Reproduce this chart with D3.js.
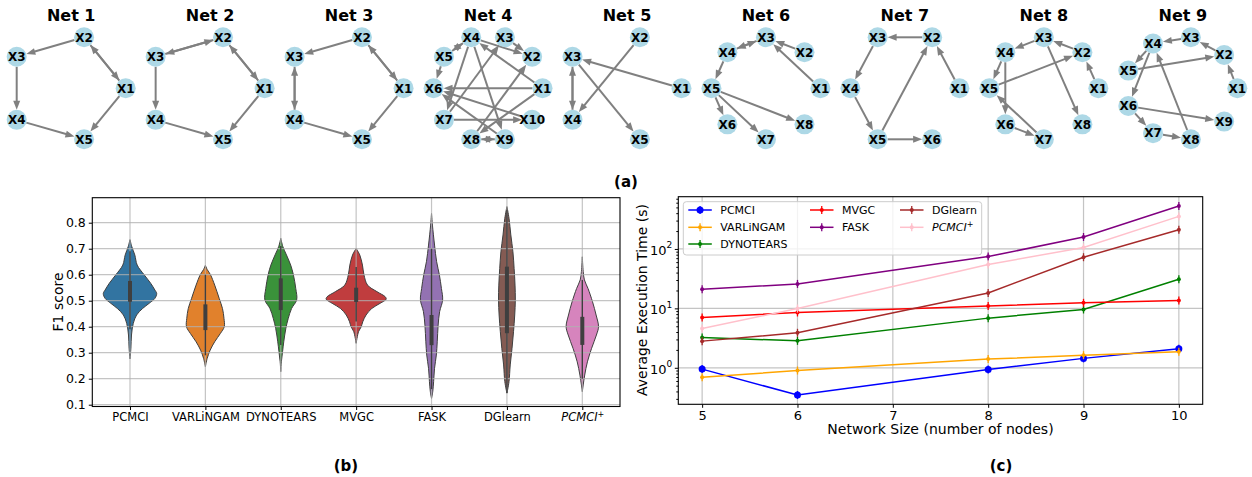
<!DOCTYPE html>
<html>
<head>
<meta charset="utf-8">
<script src="https://cdn.jsdelivr.net/npm/d3@7"></script>
<style>
  body { margin: 0; background: #fff; }
  svg { display: block; }
  text { font-family: "DejaVu Sans", sans-serif; fill: #000; }
</style>
</head>
<body>
<svg id="fig" width="1252" height="477"></svg>
<script>
// ---------- (a) causal networks ----------
const netTitles = ["Net 1", "Net 2", "Net 3", "Net 4", "Net 5", "Net 6", "Net 7", "Net 8", "Net 9"];
const netSizes = [5, 5, 5, 10, 5, 8, 6, 8, 9];
const netEdges = [
  [[2, 3], [3, 4], [4, 5], [1, 5], [2, 1], [1, 2]],
  [[3, 2], [2, 3], [2, 1], [1, 2], [3, 4], [4, 5], [1, 5]],
  [[2, 3], [3, 4], [4, 3], [2, 1], [1, 2], [1, 5], [4, 5]],
  [[4, 5], [5, 4], [5, 6], [4, 2], [3, 2], [1, 4], [1, 6], [1, 8], [4, 7], [4, 9], [7, 3], [8, 2], [7, 10], [10, 6], [9, 6], [8, 9], [9, 8]],
  [[2, 4], [1, 3], [3, 4], [4, 3], [3, 5]],
  [[4, 3], [3, 4], [2, 3], [1, 3], [4, 5], [5, 6], [5, 7], [5, 8]],
  [[2, 3], [3, 4], [4, 5], [5, 2], [1, 2], [5, 6]],
  [[3, 4], [2, 3], [1, 2], [4, 5], [5, 2], [4, 6], [3, 8], [6, 7], [7, 5]],
  [[3, 4], [2, 3], [1, 2], [4, 5], [5, 2], [4, 6], [6, 7], [7, 8], [8, 4], [6, 9]]
];

// ---------- (b) F1 score violins ----------
const methods = ["PCMCI", "VARLiNGAM", "DYNOTEARS", "MVGC", "FASK", "DGlearn", "PCMCI+"];
const violinColors = ["#3274a1", "#e1812c", "#3a923a", "#c03d3e", "#9372b2", "#845b53", "#d684bd"];
// kernel density outlines: [F1 score, relative density]
const violinPCMCI = [[0.276, 0], [0.317, 0.03], [0.368, 0.05], [0.413, 0.11], [0.445, 0.22], [0.47, 0.42], [0.49, 0.64], [0.509, 0.83], [0.528, 0.89], [0.541, 0.83], [0.567, 0.69], [0.6, 0.47], [0.637, 0.24], [0.676, 0.16], [0.708, 0.06], [0.735, 0]];
const violinVARLiNGAM = [[0.246, 0], [0.278, 0.06], [0.31, 0.16], [0.342, 0.31], [0.374, 0.5], [0.4, 0.63], [0.432, 0.62], [0.47, 0.57], [0.509, 0.46], [0.56, 0.31], [0.6, 0.17], [0.62, 0.06], [0.636, 0]];
const violinDYNOTEARS = [[0.227, 0], [0.265, 0.02], [0.304, 0.06], [0.342, 0.1], [0.394, 0.17], [0.432, 0.25], [0.47, 0.36], [0.503, 0.53], [0.547, 0.5], [0.6, 0.42], [0.637, 0.33], [0.676, 0.19], [0.708, 0.07], [0.74, 0]];
const violinMVGC = [[0.336, 0], [0.381, 0.08], [0.4, 0.17], [0.419, 0.22], [0.445, 0.33], [0.47, 0.52], [0.49, 0.8], [0.506, 1.0], [0.515, 0.97], [0.535, 0.69], [0.56, 0.38], [0.6, 0.26], [0.637, 0.21], [0.676, 0.12], [0.701, 0]];
const violinFASK = [[0.124, 0], [0.15, 0.04], [0.189, 0.07], [0.24, 0.1], [0.291, 0.16], [0.342, 0.19], [0.406, 0.22], [0.458, 0.27], [0.503, 0.37], [0.547, 0.33], [0.6, 0.26], [0.65, 0.17], [0.714, 0.1], [0.791, 0.03], [0.836, 0]];
const violinDGlearn = [[0.144, 0], [0.189, 0.07], [0.253, 0.11], [0.317, 0.17], [0.381, 0.22], [0.445, 0.26], [0.503, 0.28], [0.56, 0.27], [0.624, 0.24], [0.688, 0.2], [0.753, 0.13], [0.817, 0.07], [0.862, 0]];
const violinPCMCIplus = [[0.15, 0], [0.176, 0.03], [0.214, 0.08], [0.265, 0.17], [0.317, 0.31], [0.368, 0.47], [0.4, 0.54], [0.445, 0.46], [0.496, 0.34], [0.547, 0.19], [0.58, 0.07], [0.612, 0.03], [0.669, 0]];
const boxQ1 = [0.496, 0.387, 0.464, 0.495, 0.329, 0.375, 0.33];
const boxQ3 = [0.576, 0.486, 0.586, 0.55, 0.445, 0.631, 0.438];
const whiskerLo = [0.39, 0.29, 0.33, 0.42, 0.16, 0.145, 0.2];
const whiskerHi = [0.69, 0.6, 0.71, 0.63, 0.7, 0.85, 0.58];
const f1Ticks = [0.1, 0.2, 0.3, 0.4, 0.5, 0.6, 0.7, 0.8];

// ---------- (c) execution time ----------
const networkSizes = [5, 6, 8, 9, 10];
const timePCMCI = [0.95, 0.348, 0.94, 1.44, 2.09];
const timeVARLiNGAM = [0.69, 0.90, 1.40, 1.63, 1.86];
const timeDYNOTEARS = [3.24, 2.84, 6.85, 9.58, 31.0];
const timeMVGC = [7.03, 8.53, 11.0, 12.4, 13.6];
const timeFASK = [21.0, 25.8, 74.3, 159, 528];
const timeDGlearn = [2.81, 3.88, 18.2, 72.6, 211];
const timePCMCIplus = [4.59, 9.96, 54.7, 106, 353];
const timeColors = ["blue", "orange", "green", "red", "purple", "brown", "pink"];
const sizeTicks = [5, 6, 7, 8, 9, 10];

const svg = d3.select("#fig");

// ===== Networks =====
const netLeft = d3.scaleLinear().domain([0, 8]).range([16.7, 1128.3]);
const nodeR = 10, arrowLen = 9, arrowW = 7;
const netLayer = svg.append("g");

netTitles.forEach((title, i) => {
  const n = netSizes[i];
  const nodes = d3.range(n).map(k => {
    const a = 2 * Math.PI * k / n;
    return { id: k + 1, x: Math.cos(a), y: Math.sin(a) };
  });
  const left = netLeft(i);
  const xs = d3.scaleLinear().domain(d3.extent(nodes, d => d.x)).range([left, left + 109]);
  const ys = d3.scaleLinear().domain(d3.extent(nodes, d => d.y)).range([139.3, 37.3]);
  const pos = id => [xs(nodes[id - 1].x), ys(nodes[id - 1].y)];
  const g = netLayer.append("g");

  g.append("text").attr("x", left + 54.5).attr("y", 21)
    .attr("text-anchor", "middle").attr("font-size", 16).attr("font-weight", "bold")
    .text(title);

  netEdges[i].forEach(([s, t]) => {
    const [x1, y1] = pos(s), [x2, y2] = pos(t);
    const dx = x2 - x1, dy = y2 - y1, len = Math.hypot(dx, dy);
    const ux = dx / len, uy = dy / len;
    const sx = x1 + ux * nodeR, sy = y1 + uy * nodeR;
    const tx = x2 - ux * nodeR, ty = y2 - uy * nodeR;
    const bx = tx - ux * arrowLen, by = ty - uy * arrowLen;
    g.append("line").attr("x1", sx).attr("y1", sy)
      .attr("x2", bx + ux * 2).attr("y2", by + uy * 2)
      .attr("stroke", "#808080").attr("stroke-width", 2);
    const px = -uy * arrowW / 2, py = ux * arrowW / 2;
    g.append("path")
      .attr("d", `M${tx},${ty}L${bx + px},${by + py}L${bx - px},${by - py}Z`)
      .attr("fill", "#808080");
  });

  const ng = g.selectAll("g.node").data(nodes).join("g")
    .attr("transform", d => `translate(${xs(d.x)},${ys(d.y)})`);
  ng.append("circle").attr("r", nodeR).attr("fill", "#add8e6");
  ng.append("text").attr("text-anchor", "middle").attr("dy", "0.36em")
    .attr("font-size", 12).attr("font-weight", "bold").text(d => "X" + d.id);
});

// panel captions
const captions = [["(a)", 626, 187], ["(b)", 346, 471], ["(c)", 1001, 471]];
captions.forEach(([t, x, y]) => {
  svg.append("text").attr("x", x).attr("y", y).attr("text-anchor", "middle")
    .attr("font-family", "'DejaVu Serif', serif").attr("font-weight", "bold")
    .attr("font-size", 15).text(t);
});

// ===== Violin plot =====
const violinData = [violinPCMCI, violinVARLiNGAM, violinDYNOTEARS, violinMVGC, violinFASK, violinDGlearn, violinPCMCIplus];
const vx = d3.scalePoint().domain(methods).range([92.3, 620]).padding(0.5);
const vy = d3.scaleLinear().domain([0.0931, 0.8962]).range([406.5, 197.7]);
const vw = d3.scaleLinear().domain([0, 1]).range([0, 30]);
const vb = svg.append("g");

methods.forEach((m, i) => {
  const cx = vx(m);
  const area = d3.area()
    .y(d => vy(d[0]))
    .x0(d => cx - vw(d[1]))
    .x1(d => cx + vw(d[1]))
    .curve(d3.curveCatmullRom.alpha(0.5));
  vb.append("path").attr("d", area(violinData[i]))
    .attr("fill", violinColors[i]).attr("stroke", "#3f3f3f").attr("stroke-width", 1);
});

// grid sits above the violin bodies
const vgrid = vb.append("g").attr("stroke", "#b0b0b0").attr("stroke-opacity", 0.75).attr("stroke-width", 1.2);
f1Ticks.forEach(t => vgrid.append("line").attr("x1", 92.3).attr("x2", 620).attr("y1", vy(t)).attr("y2", vy(t)));
methods.forEach(m => vgrid.append("line").attr("x1", vx(m)).attr("x2", vx(m)).attr("y1", 197.7).attr("y2", 406.5));

// inner boxes
methods.forEach((m, i) => {
  const cx = vx(m);
  vb.append("line").attr("x1", cx).attr("x2", cx)
    .attr("y1", vy(whiskerLo[i])).attr("y2", vy(whiskerHi[i]))
    .attr("stroke", "#3f3f3f").attr("stroke-width", 1.4);
  vb.append("line").attr("x1", cx).attr("x2", cx)
    .attr("y1", vy(boxQ1[i])).attr("y2", vy(boxQ3[i]))
    .attr("stroke", "#3f3f3f").attr("stroke-width", 4);
});

vb.append("rect").attr("x", 92.3).attr("y", 197.7).attr("width", 620 - 92.3).attr("height", 406.5 - 197.7)
  .attr("fill", "none").attr("stroke", "#000").attr("stroke-width", 1.1);

const vyAxis = vb.append("g").attr("transform", "translate(92.3,0)")
  .call(d3.axisLeft(vy).tickValues(f1Ticks).tickSize(3.5).tickPadding(3).tickFormat(d3.format(".1f")));
vyAxis.select(".domain").remove();
vyAxis.selectAll("text").attr("font-size", 12.5).attr("font-family", "'DejaVu Sans', sans-serif").attr("fill", "#000");

const vxAxis = vb.append("g").attr("transform", "translate(0,406.5)")
  .call(d3.axisBottom(vx).tickSize(3.5).tickPadding(3));
vxAxis.select(".domain").remove();
vxAxis.selectAll("text").attr("font-size", 11.5).attr("font-family", "'DejaVu Sans', sans-serif").attr("fill", "#000")
  .each(function (d) {
    if (d === "PCMCI+") {
      const t = d3.select(this).text("");
      t.append("tspan").attr("font-style", "italic").text("PCMCI");
      t.append("tspan").attr("font-style", "italic").attr("font-size", 8).attr("dy", "-0.5em").text("+");
    }
  });

vb.append("text").attr("transform", "translate(63,302) rotate(-90)")
  .attr("text-anchor", "middle").attr("font-size", 14).text("F1 score");

// ===== Execution time plot =====
const timeSeries = [timePCMCI, timeVARLiNGAM, timeDYNOTEARS, timeMVGC, timeFASK, timeDGlearn, timePCMCIplus];
const lx = d3.scaleLinear().domain([4.75, 10.25]).range([678.3, 1202.7]);
const ly = d3.scaleLog().domain([0.243, 757]).range([404.3, 196.7]);
const lc = svg.append("g");

const lgrid = lc.append("g").attr("stroke", "#b0b0b0").attr("stroke-opacity", 0.75).attr("stroke-width", 1.2);
sizeTicks.forEach(t => lgrid.append("line").attr("x1", lx(t)).attr("x2", lx(t)).attr("y1", 196.7).attr("y2", 404.3));
[1, 10, 100].forEach(t => lgrid.append("line").attr("x1", 678.3).attr("x2", 1202.7).attr("y1", ly(t)).attr("y2", ly(t)));

const line = d3.line().x((d, j) => lx(networkSizes[j])).y(d => ly(d));
timeSeries.forEach((s, i) => {
  const g = lc.append("g");
  g.append("path").attr("d", line(s)).attr("fill", "none")
    .attr("stroke", timeColors[i]).attr("stroke-width", 1.5);
  s.forEach((v, j) => {
    const x = lx(networkSizes[j]), y = ly(v);
    g.append("line").attr("x1", x).attr("x2", x).attr("y1", y - 4).attr("y2", y + 4)
      .attr("stroke", timeColors[i]).attr("stroke-width", 1.3);
    g.append("circle").attr("cx", x).attr("cy", y).attr("r", i === 0 ? 3.5 : 2)
      .attr("fill", timeColors[i]);
  });
});

lc.append("rect").attr("x", 678.3).attr("y", 196.7).attr("width", 1202.7 - 678.3).attr("height", 404.3 - 196.7)
  .attr("fill", "none").attr("stroke", "#000").attr("stroke-width", 1.1);

const lxAxis = lc.append("g").attr("transform", "translate(0,404.3)")
  .call(d3.axisBottom(lx).tickValues(sizeTicks).tickSize(3.5).tickPadding(3).tickFormat(d3.format("d")));
lxAxis.select(".domain").remove();
lxAxis.selectAll("text").attr("font-size", 13).attr("font-family", "'DejaVu Sans', sans-serif").attr("fill", "#000");

// major (labelled) and minor log ticks
const minorTicks = [];
[0.1, 1, 10, 100].forEach(dec => d3.range(2, 10).forEach(k => {
  const v = dec * k;
  if (v > 0.243 && v < 757) minorTicks.push(v);
}));
const lyMinor = lc.append("g").attr("transform", "translate(678.3,0)")
  .call(d3.axisLeft(ly).tickValues(minorTicks).tickSize(2).tickFormat(""));
lyMinor.select(".domain").remove();

const lyAxis = lc.append("g").attr("transform", "translate(678.3,0)")
  .call(d3.axisLeft(ly).tickValues([1, 10, 100]).tickSize(3.5).tickPadding(3).tickFormat(""));
lyAxis.select(".domain").remove();
lyAxis.selectAll(".tick").each(function (d) {
  const t = d3.select(this).append("text").attr("x", -6).attr("dy", "0.42em")
    .attr("text-anchor", "end").attr("font-size", 13).attr("fill", "#000")
    .attr("font-family", "'DejaVu Sans', sans-serif");
  t.append("tspan").text("10");
  t.append("tspan").attr("font-size", 9).attr("dy", "-0.75em").text(String(Math.round(Math.log10(d))));
});

lc.append("text").attr("transform", "translate(647,300) rotate(-90)")
  .attr("text-anchor", "middle").attr("font-size", 14).text("Average Execution Time (s)");
lc.append("text").attr("x", 940.5).attr("y", 434)
  .attr("text-anchor", "middle").attr("font-size", 14).text("Network Size (number of nodes)");

// legend (three columns, filled column by column)
const legendCol = [688.3, 810, 900];
const legendRow = [210, 227.3, 244];
const legendSlots = [[0, 0], [0, 1], [0, 2], [1, 0], [1, 1], [2, 0], [2, 1]];
const lg = lc.append("g");
lg.append("rect").attr("x", 683.3).attr("y", 201.7).attr("width", 298.4).attr("height", 53.3).attr("rx", 3)
  .attr("fill", "#fff").attr("fill-opacity", 0.8).attr("stroke", "#cccccc");
methods.forEach((m, i) => {
  const [c, r] = legendSlots[i];
  const x0 = legendCol[c], y0 = legendRow[r];
  lg.append("line").attr("x1", x0).attr("x2", x0 + 23.5).attr("y1", y0).attr("y2", y0)
    .attr("stroke", timeColors[i]).attr("stroke-width", 1.5);
  lg.append("line").attr("x1", x0 + 11.75).attr("x2", x0 + 11.75).attr("y1", y0 - 4).attr("y2", y0 + 4)
    .attr("stroke", timeColors[i]).attr("stroke-width", 1.3);
  lg.append("circle").attr("cx", x0 + 11.75).attr("cy", y0).attr("r", i === 0 ? 3.5 : 2).attr("fill", timeColors[i]);
  const t = lg.append("text").attr("x", x0 + 32).attr("y", y0).attr("dy", "0.36em").attr("font-size", 11);
  if (m === "PCMCI+") {
    t.append("tspan").attr("font-style", "italic").text("PCMCI");
    t.append("tspan").attr("font-style", "italic").attr("font-size", 8).attr("dy", "-0.5em").text("+");
  } else {
    t.text(m);
  }
});
</script>
</body>
</html>
